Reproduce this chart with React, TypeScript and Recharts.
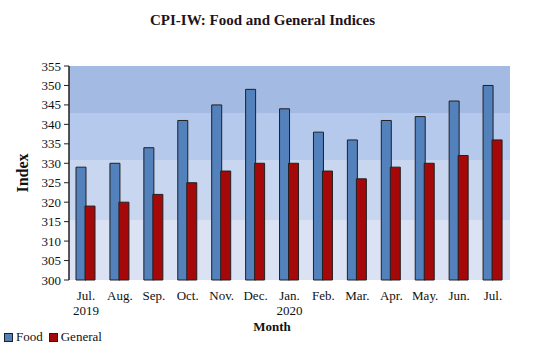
import React from 'react';
import { BarChart, Bar, XAxis, YAxis } from 'recharts';

const months = ['Jul.', 'Aug.', 'Sep.', 'Oct.', 'Nov.', 'Dec.', 'Jan.', 'Feb.', 'Mar.', 'Apr.', 'May.', 'Jun.', 'Jul.'];
const years = ['2019', '', '', '', '', '', '2020', '', '', '', '', '', ''];
const food = [329, 330, 334, 341, 345, 349, 344, 338, 336, 341, 342, 346, 350];
const general = [319, 320, 322, 325, 328, 330, 330, 328, 326, 329, 330, 332, 336];
const yTicks = [300, 305, 310, 315, 320, 325, 330, 335, 340, 345, 350, 355];
const edgeTicks = [0, 1, 2, 3, 4, 5, 6, 7, 8, 9, 10, 11, 12, 13];

const data = months.map((m, i) => ({ key: i, month: m, year: years[i], food: food[i], general: general[i] }));

const FONT = '"Liberation Serif", "Times New Roman", serif';
const INK = '#231f20';

const MonthTick = (props: any) => {
  const { x, y, payload } = props;
  const row = data[payload.value];
  return (
    <text x={x} y={y} textAnchor="middle" fontFamily={FONT} fontSize={13} fill="#111">
      <tspan x={x} dy={12}>{row.month}</tspan>
      {row.year && <tspan x={x} dy={15}>{row.year}</tspan>}
    </text>
  );
};

const ValueTick = (props: any) => {
  const { x, y, payload } = props;
  return (
    <text x={x} y={y} textAnchor="end" dominantBaseline="central" fontFamily={FONT} fontSize={13} fill="#111">
      {payload.value}
    </text>
  );
};

export default function App() {
  return (
    <div style={{ position: 'relative', width: 547, height: 350, background: '#fff', fontFamily: FONT }}>
      <style>{'body{margin:0}'}</style>
      <div style={{ position: 'absolute', top: 12, left: 0, width: 525, textAlign: 'center', fontWeight: 'bold', fontSize: 15, color: '#1e1420' }}>
        CPI-IW: Food and General Indices
      </div>
      <BarChart
        width={547}
        height={350}
        data={data}
        margin={{ top: 66, right: 37, left: 0, bottom: 0 }}
        barSize={10}
        barGap={-1}
        barCategoryGap={0}
        style={{ fontFamily: FONT }}
      >
        <defs>
          <linearGradient id="bg" x1="0" y1="0" x2="0" y2="1">
            <stop offset="0%" stopColor="#a3bbe3" />
            <stop offset="22%" stopColor="#a3bbe3" />
            <stop offset="22%" stopColor="#b5c9ec" />
            <stop offset="44%" stopColor="#b5c9ec" />
            <stop offset="44%" stopColor="#c8d6f0" />
            <stop offset="72%" stopColor="#c8d6f0" />
            <stop offset="72%" stopColor="#dbe2f3" />
            <stop offset="100%" stopColor="#dbe2f3" />
          </linearGradient>
        </defs>
        <XAxis
          xAxisId="edge"
          type="number"
          domain={[0, 13]}
          ticks={edgeTicks}
          tickFormatter={() => ''}
          height={0}
          axisLine={{ stroke: INK, strokeWidth: 1.5 }}
          tickLine={{ stroke: INK }}
          tickSize={5}
        />
        <XAxis
          xAxisId="cat"
          dataKey="key"
          type="category"
          axisLine={false}
          tickLine={false}
          interval={0}
          height={70}
          tick={<MonthTick />}
          label={() => (
            <text x={272} y={331} textAnchor="middle" fontFamily={FONT} fontWeight="bold" fontSize={13} fill="#111">
              Month
            </text>
          )}
        />
        <YAxis
          domain={[300, 355]}
          ticks={yTicks}
          width={69}
          interval={0}
          axisLine={{ stroke: INK, strokeWidth: 1.5 }}
          tickLine={{ stroke: INK }}
          tickSize={5}
          tickMargin={3}
          tick={<ValueTick />}
          label={(p: any) => {
            const vb = p.viewBox;
            const cy = vb.y + vb.height / 2;
            return (
              <text x={22} y={cy} transform={`rotate(-90 22 ${cy})`} textAnchor="middle" dominantBaseline="central" fontFamily={FONT} fontWeight="bold" fontSize={16} fill="#111">
                Index
              </text>
            );
          }}
        />
        <rect x={69} y={66} width={441} height={214} fill="url(#bg)" />
        <Bar xAxisId="cat" dataKey="food" fill="#5281bc" stroke={INK} strokeWidth={1} isAnimationActive={false} />
        <Bar xAxisId="cat" dataKey="general" fill="#a50808" stroke={INK} strokeWidth={1} isAnimationActive={false} />
      </BarChart>
      <div style={{ position: 'absolute', left: 4, top: 329, display: 'flex', alignItems: 'center', fontSize: 13, color: '#111' }}>
        <span style={{ display: 'inline-block', width: 7, height: 7, background: '#5281bc', border: `1px solid ${INK}`, marginRight: 3 }} />
        <span style={{ marginRight: 6 }}>Food</span>
        <span style={{ display: 'inline-block', width: 7, height: 7, background: '#a50808', border: `1px solid ${INK}`, marginRight: 3 }} />
        <span>General</span>
      </div>
    </div>
  );
}
